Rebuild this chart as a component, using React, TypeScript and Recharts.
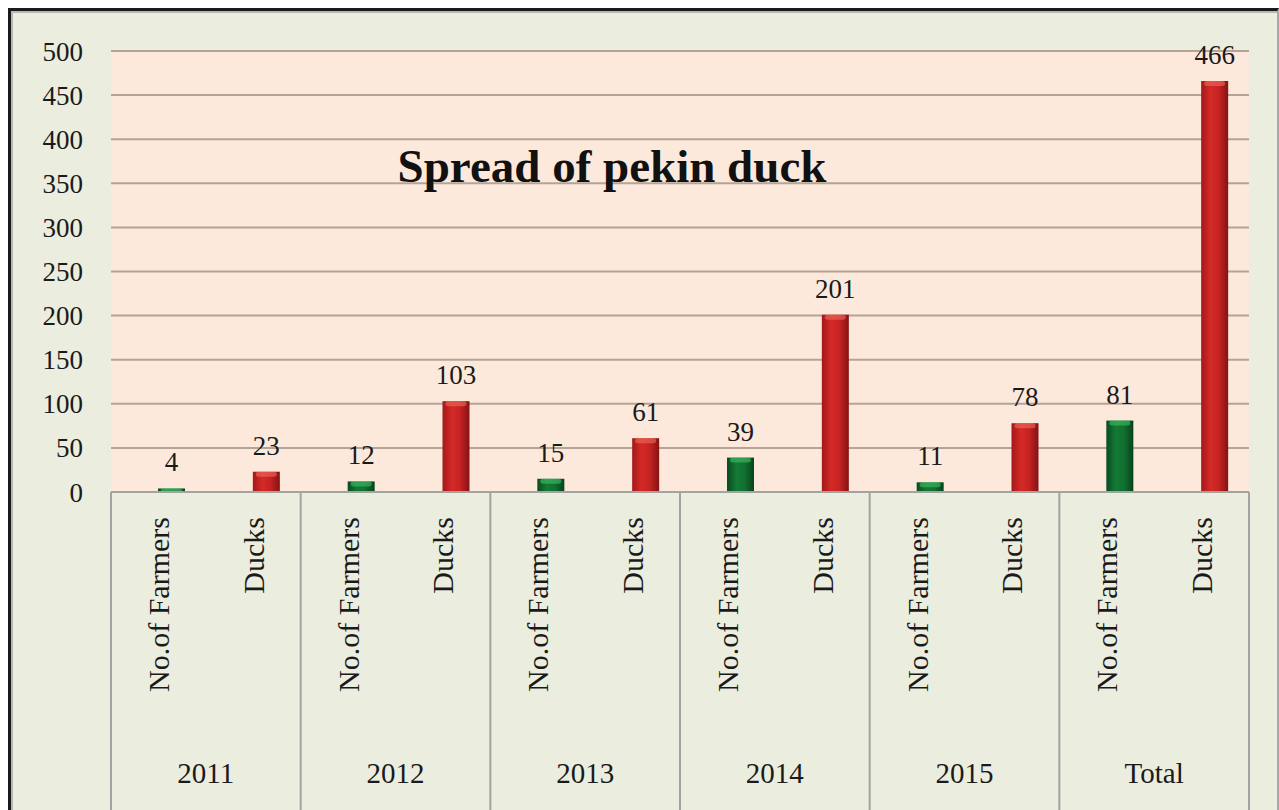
import React from "react";
import { BarChart, Bar, XAxis, YAxis, CartesianGrid, LabelList } from "recharts";

const groups = ["2011", "2012", "2013", "2014", "2015", "Total"];
const farmers = [4, 12, 15, 39, 11, 81];
const ducks = [23, 103, 61, 201, 78, 466];
const yTicks = [0, 50, 100, 150, 200, 250, 300, 350, 400, 450, 500];

const data = groups.flatMap((g, i) => [
  { cat: "No.of Farmers", group: g, kind: "farmers", value: farmers[i] },
  { cat: "Ducks", group: g, kind: "ducks", value: ducks[i] },
]);

const W = 1279;
const H = 810;
const PLOT_LEFT = 111;
const PLOT_RIGHT = 1249;
const PLOT_TOP = 51;
const PLOT_BOTTOM = 492;
const BAND = (PLOT_RIGHT - PLOT_LEFT) / data.length;
const FONT = "'Liberation Serif', 'Times New Roman', serif";

function CategoryTick(props: any) {
  const { x, y, index, payload } = props;
  const row = data[index];
  const isFirst = index % 2 === 0;
  return (
    <g>
      <text
        transform={`translate(${x},${y + 25}) rotate(-90)`}
        textAnchor="end"
        dominantBaseline="central"
        fontFamily={FONT}
        fontSize={30}
        fill="#1a1a1a"
      >
        {payload.value}
      </text>
      {isFirst && (
        <>
          <line x1={x - BAND / 2} x2={x - BAND / 2} y1={y} y2={H} stroke="#a3a3a0" strokeWidth={2} />
          <text
            x={x + BAND / 2}
            y={y + 281}
            textAnchor="middle"
            dominantBaseline="central"
            fontFamily={FONT}
            fontSize={29}
            fill="#1a1a1a"
          >
            {row.group}
          </text>
        </>
      )}
      {index === data.length - 1 && (
        <line x1={x + BAND / 2} x2={x + BAND / 2} y1={y} y2={H} stroke="#a3a3a0" strokeWidth={2} />
      )}
    </g>
  );
}

function CylinderBar(props: any) {
  const { x, y, width, height, payload } = props;
  if (!height || height <= 0) return null;
  const green = payload.kind === "farmers";
  const cap = Math.min(5, height);
  return (
    <g>
      <rect x={x} y={y} width={width} height={height} fill={green ? "url(#gGreen)" : "url(#gRed)"} />
      <rect
        x={x + 3}
        y={y}
        width={width - 6}
        height={cap}
        rx={3}
        fill={green ? "#3fbf66" : "#ee6a5e"}
        opacity={0.6}
      />
    </g>
  );
}

export default function App() {
  return (
    <div style={{ position: "fixed", left: 0, top: 0, width: W, height: H, background: "#fff" }}>
      <div
        style={{
          position: "absolute",
          left: 8,
          top: 8,
          width: W - 8,
          height: H - 8,
          boxSizing: "border-box",
          borderTop: "3px solid #1a1a1a",
          borderLeft: "3px solid #1a1a1a",
          borderRight: "2px solid #a8a8a8",
          background: "#ebeddf",
        }}
      >
        <div
          style={{
            position: "absolute",
            inset: 0,
            borderTop: "2px solid #b9b9b4",
            borderLeft: "2px solid #b9b9b4",
          }}
        />
      </div>
      <div style={{ position: "absolute", left: 0, top: 0 }}>
        <BarChart
          width={W}
          height={H}
          data={data}
          margin={{ top: PLOT_TOP, right: W - PLOT_RIGHT, bottom: 18, left: PLOT_LEFT - 80 }}
          barSize={27}
          barGap={0}
        >
          <defs>
            <linearGradient id="gGreen" x1="0" y1="0" x2="1" y2="0">
              <stop offset="0%" stopColor="#0a4a20" />
              <stop offset="35%" stopColor="#137a35" />
              <stop offset="65%" stopColor="#117031" />
              <stop offset="100%" stopColor="#08421c" />
            </linearGradient>
            <linearGradient id="gRed" x1="0" y1="0" x2="1" y2="0">
              <stop offset="0%" stopColor="#a3181a" />
              <stop offset="35%" stopColor="#d42a27" />
              <stop offset="65%" stopColor="#c52322" />
              <stop offset="100%" stopColor="#851214" />
            </linearGradient>
          </defs>
          <CartesianGrid
            vertical={false}
            stroke="#b3a497"
            strokeWidth={2}
            fill="#fde9db"
            fillOpacity={1}
          />
          <YAxis
            domain={[0, 500]}
            ticks={yTicks}
            width={80}
            axisLine={false}
            tickLine={false}
            tickSize={0}
            tickMargin={28}
            tick={{ fontFamily: FONT, fontSize: 27, fill: "#1a1a1a" }}
          />
          <XAxis
            dataKey="cat"
            height={H - PLOT_BOTTOM - 18}
            interval={0}
            tickLine={false}
            tickSize={0}
            tickMargin={0}
            axisLine={{ stroke: "#a3a3a0", strokeWidth: 2 }}
            tick={<CategoryTick />}
          />
          <Bar dataKey="spacer" isAnimationActive={false} />
          <Bar dataKey="value" isAnimationActive={false} shape={<CylinderBar />}>
            <LabelList
              dataKey="value"
              position="top"
              offset={17}
              fontFamily={FONT}
              fontSize={27}
              fill="#1a1a1a"
            />
          </Bar>
        </BarChart>
      </div>
      <svg width={W} height={H} style={{ position: "absolute", left: 0, top: 0, pointerEvents: "none" }}>
        <text
          x={612}
          y={182}
          textAnchor="middle"
          fontFamily={FONT}
          fontWeight="bold"
          fontSize={47}
          fill="#111"
        >
          Spread of pekin duck
        </text>
      </svg>
    </div>
  );
}
